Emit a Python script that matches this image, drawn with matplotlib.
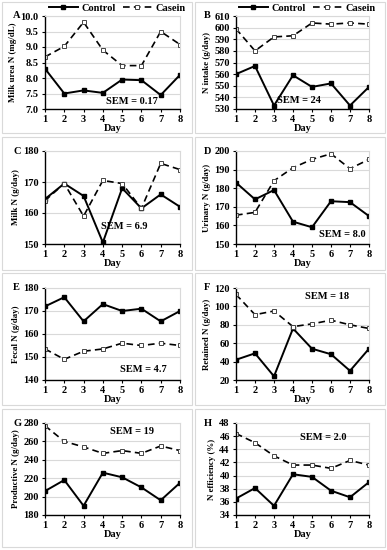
import matplotlib
matplotlib.use("Agg")
import matplotlib.pyplot as plt
from matplotlib.patches import Rectangle
from matplotlib.lines import Line2D
from matplotlib.ticker import FormatStrFormatter

plt.rcParams['font.family'] = ['Liberation Serif', 'DejaVu Serif']
plt.rcParams['font.weight'] = 'bold'

days = [1, 2, 3, 4, 5, 6, 7, 8]

# panel data
milk_urea_ctrl = [8.3, 7.5, 7.6, 7.52, 7.95, 7.93, 7.45, 8.1]
milk_urea_cas = [8.68, 9.02, 9.8, 8.9, 8.4, 8.4, 9.5, 9.08]
n_intake_ctrl = [560, 567, 533, 559, 549, 552, 533, 549]
n_intake_cas = [599, 580, 592, 593, 604, 603, 604, 603]
milk_n_ctrl = [164.5, 169.5, 165.5, 150.5, 168, 161.5, 166, 162]
milk_n_cas = [164, 169.5, 159, 170.5, 169.5, 161.5, 176, 174]
urinary_ctrl = [183, 174, 179, 162, 159, 173, 172.5, 165]
urinary_cas = [165.5, 167, 184, 191, 195.5, 198.5, 190.5, 195.5]
fecal_ctrl = [172, 176, 165.5, 173, 170, 171, 165.5, 170]
fecal_cas = [153.5, 149, 152.5, 153.5, 156, 155, 156, 155]
retained_ctrl = [42, 49, 24, 76, 54, 48, 30, 54]
retained_cas = [113, 91, 95, 78, 81, 85, 80, 76]
productive_ctrl = [206, 218, 190, 226, 221, 210, 196, 215]
productive_cas = [277, 260, 254, 247, 250, 247, 255, 250]
eff_ctrl = [36.5, 38.1, 35.4, 40.2, 39.8, 37.7, 36.7, 39.0]
eff_cas = [46.4, 45.0, 43.0, 41.6, 41.6, 41.1, 42.3, 41.6]

panels = [
    ("A", "Milk urea N (mg/dL)", milk_urea_ctrl, milk_urea_cas, (7.0, 10.0, 0.5), "%.1f", "SEM = 0.17", (5.5, 7.25)),
    ("B", "N intake (g/day)", n_intake_ctrl, n_intake_cas, (530, 610, 10), "%d", "SEM = 24", (4.3, 537)),
    ("C", "Milk N (g/day)", milk_n_ctrl, milk_n_cas, (150, 180, 10), "%d", "SEM = 6.9", (5.1, 155.5)),
    ("D", "Urinary N (g/day)", urinary_ctrl, urinary_cas, (150, 200, 10), "%d", "SEM = 8.0", (6.6, 155)),
    ("E", "Fecal N (g/day)", fecal_ctrl, fecal_cas, (140, 180, 10), "%d", "SEM = 4.7", (6.1, 144.5)),
    ("F", "Retained N (g/day)", retained_ctrl, retained_cas, (20, 120, 20), "%d", "SEM = 18", (5.8, 111)),
    ("G", "Productive N (g/day)", productive_ctrl, productive_cas, (180, 280, 20), "%d", "SEM = 19", (5.5, 271)),
    ("H", "N efficiency (%)", eff_ctrl, eff_cas, (34, 48, 2), "%d", "SEM = 2.0", (5.6, 45.8)),
]

W, H = 387, 550
fig = plt.figure(figsize=(W / 100, H / 100), dpi=100)

# panel frames (pixels: x0, y0, x1, y1)
rows = [(2, 133), (137, 270), (273, 405), (409, 547)]
cols = [(2, 192), (195, 385)]
for (y0, y1) in rows:
    for (x0, x1) in cols:
        fig.patches.append(Rectangle((x0 / W, 1 - y1 / H), (x1 - x0) / W, (y1 - y0) / H,
                                     transform=fig.transFigure, fill=False,
                                     edgecolor="#d9d9d9", linewidth=0.8))

plot_rows = [(16, 109), (151, 244), (288, 380), (423, 515)]
plot_cols = [(45, 180), (236, 369)]
col_offsets = [0, 190]

ctrl_style = dict(color="black", lw=1.4, marker="s", ms=3.0,
                  markerfacecolor="black", markeredgecolor="black")
cas_style = dict(color="black", lw=1.2, ls=(0, (4, 2.5)), marker="s", ms=3.4,
                 markerfacecolor="white", markeredgecolor="#444444", markeredgewidth=0.7)

for i, (letter, ylab, ctrl, cas, (lo, hi, step), fmt, sem, sem_xy) in enumerate(panels):
    r, c = divmod(i, 2)
    top, bot = plot_rows[r]
    left, right = plot_cols[c]
    ax = fig.add_axes([left / W, 1 - bot / H, (right - left) / W, (bot - top) / H])
    ax.plot(days, ctrl, **ctrl_style)
    ax.plot(days, cas, **cas_style)
    ax.set_xlim(1, 8)
    ax.set_ylim(lo, hi)
    n = int(round((hi - lo) / step))
    ax.set_yticks([lo + k * step for k in range(n + 1)])
    ax.yaxis.set_major_formatter(FormatStrFormatter(fmt))
    ax.set_xticks(days)
    ax.grid(axis="y", color="#d9d9d9", lw=0.8)
    ax.set_axisbelow(True)
    for s in ["top", "right"]:
        ax.spines[s].set_color("#d9d9d9")
        ax.spines[s].set_linewidth(0.8)
    for s in ["left", "bottom"]:
        ax.spines[s].set_color("black")
        ax.spines[s].set_linewidth(1.0)
    ax.tick_params(labelsize=7.5, length=2.5, width=0.8, pad=2)
    for lab in ax.get_xticklabels() + ax.get_yticklabels():
        lab.set_fontweight("bold")
    ax.set_xlabel("Day", fontsize=7.5, fontweight="bold", labelpad=0)
    ax.set_ylabel(ylab, fontsize=6.4, fontweight="bold", labelpad=2.5)
    ax.text(*sem_xy, sem, fontsize=7.5, fontweight="bold", ha="center", va="center")
    fig.text((left - 32) / W, 1 - top / H, letter, fontsize=7.5, fontweight="bold",
             ha="left", va="center")
    if r == 0:
        handles = [Line2D([], [], **ctrl_style), Line2D([], [], **cas_style)]
        fig.legend(handles, ["Control", "Casein"], loc="center",
                   bbox_to_anchor=((col_offsets[c] + 117) / W, 1 - 8 / H), ncol=2, frameon=False,
                   prop={"family": "Liberation Serif", "weight": "bold", "size": 7.5},
                   handlelength=2.8, columnspacing=0.7, handletextpad=0.3, borderaxespad=0)

fig.savefig("out.png", dpi=100)
